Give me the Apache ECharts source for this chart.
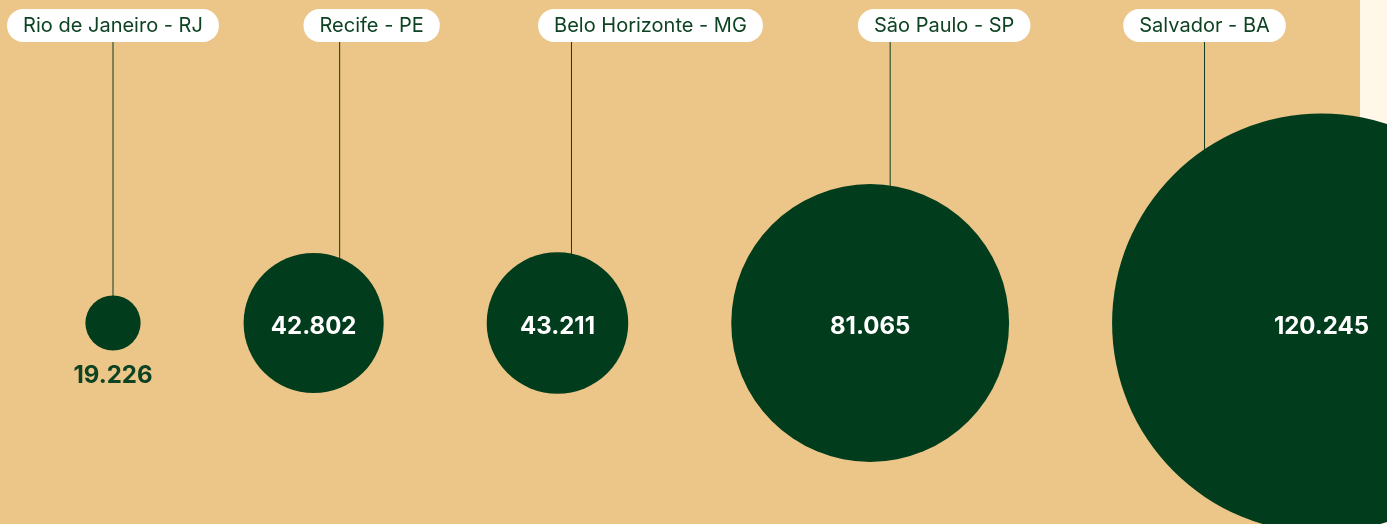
<!DOCTYPE html>
<html>
<head>
<meta charset="utf-8">
<script src="https://cdn.jsdelivr.net/npm/echarts@6/dist/echarts.min.js"></script>
<style>
  html, body { margin: 0; padding: 0; }
  #chart { width: 1387px; height: 524px; }
</style>
</head>
<body>
<div id="chart"></div>
<script>
// data
const cities = ['Rio de Janeiro - RJ', 'Recife - PE', 'Belo Horizonte - MG', 'São Paulo - SP', 'Salvador - BA'];
const values = [19226, 42802, 43211, 81065, 120245];

// layout helpers (pixels)
const pinShift = [0, 26, 14, 20, -117];   // pin line offset from circle centre
const pillShift = [0, 32, 79, 54, 0];     // label pill offset from pin line
const gap = 103;
const green = '#013C1D';
const textGreen = '#0d4322';

function radius(v) {
  return 1.8 * v / 1000 - 7;
}
function fmt(v) {
  return String(v).replace(/\B(?=(\d{3})+(?!\d))/g, '.');
}

// circles laid out left to right with a constant gap between them
const centers = [];
let cx = 113;
values.forEach(function (v, i) {
  if (i > 0) cx += radius(values[i - 1]) + gap + radius(v);
  centers.push(cx);
});

const bubbleData = values.map(function (v, i) {
  const item = { value: [centers[i], 0, v] };
  if (i === 0) {
    item.label = { position: 'bottom', distance: 13, offset: [0, 0], color: textGreen };
  }
  return item;
});
const pinData = values.map(function (v, i) { return [centers[i], 0, v]; });

var chart = echarts.init(document.getElementById('chart'));
const option = {
  backgroundColor: '#ECC688',
  animation: false,
  graphic: [{
    type: 'rect',
    z: 0,
    shape: { x: 1360, y: 0, width: 27, height: 524 },
    style: { fill: '#FFF8E9' }
  }],
  grid: { left: 0, right: 0, top: 0, bottom: 0 },
  xAxis: { type: 'value', min: 0, max: 1387, show: false },
  yAxis: { type: 'value', min: -323, max: 201, inverse: true, show: false },
  series: [
    {
      type: 'custom',
      z: 1,
      silent: true,
      data: pinData,
      encode: { x: 0, y: 1 },
      renderItem: function (params, api) {
        const i = params.dataIndex;
        const c = api.coord([api.value(0), api.value(1)]);
        const px = c[0] + pinShift[i];
        return {
          type: 'group',
          children: [
            {
              type: 'line',
              shape: { x1: px, y1: 42, x2: px, y2: c[1] },
              style: { stroke: '#0e3d1f', lineWidth: 1 }
            },
            {
              type: 'text',
              x: px + pillShift[i],
              y: 25.5,
              style: {
                text: cities[i],
                align: 'center',
                verticalAlign: 'middle',
                font: '20px Inter',
                lineHeight: 21,
                fill: textGreen,
                backgroundColor: '#ffffff',
                borderRadius: 16,
                padding: [6, 16]
              }
            }
          ]
        };
      }
    },
    {
      type: 'scatter',
      z: 3,
      data: bubbleData,
      symbol: 'circle',
      symbolSize: function (val) { return radius(val[2]) * 2; },
      itemStyle: { color: green, opacity: 1 },
      label: {
        show: true,
        position: 'inside',
        offset: [0, 4],
        color: '#ffffff',
        fontFamily: 'Inter',
        fontWeight: 'bold',
        fontSize: 24,
        formatter: function (p) { return fmt(p.value[2]); }
      }
    }
  ]
};
chart.setOption(option);
window.addEventListener('resize', function () {
  chart.resize();
});
</script>
</body>
</html>
